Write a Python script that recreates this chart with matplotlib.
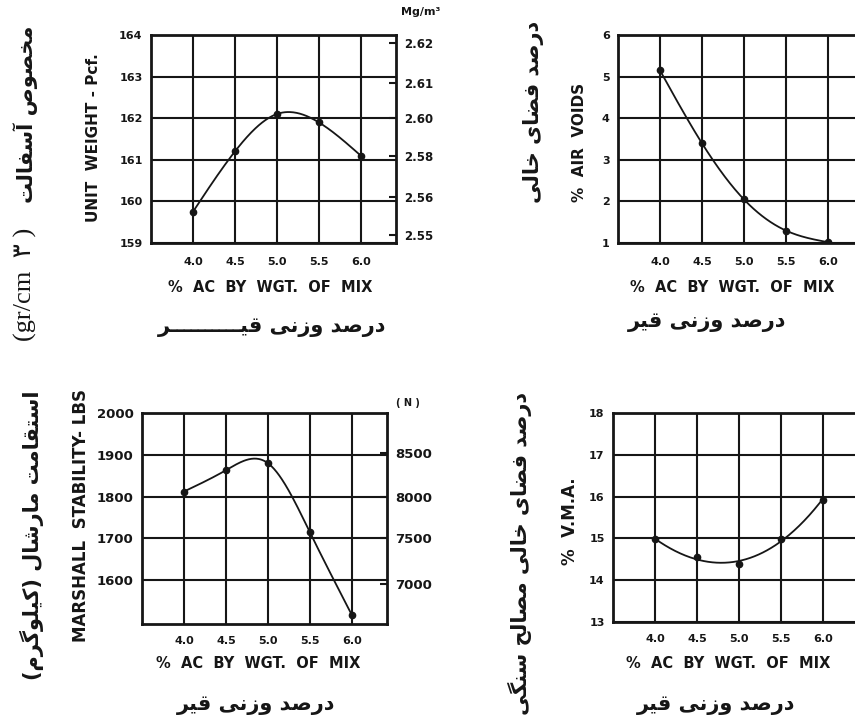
import numpy as np
import matplotlib
matplotlib.use('Agg')
import matplotlib.pyplot as plt

ac = [4.0, 4.5, 5.0, 5.5, 6.0]
ac_labels = ['4.0', '4.5', '5.0', '5.5', '6.0']
unit_weight = [159.75, 161.2, 162.1, 161.9, 161.1]
air_voids = [5.15, 3.4, 2.05, 1.3, 1.02]
stability = [1812, 1863, 1880, 1715, 1517]
vma = [14.98, 14.55, 14.38, 14.98, 15.93]

density_ticks = [163.8, 162.85, 162.0, 161.1, 160.1, 159.2]
density_labels = ['2.62', '2.61', '2.60', '2.58', '2.56', '2.55']
newton_ticks = [1905, 1800, 1700, 1590]
newton_labels = ['8500', '8000', '7500', '7000']

# presentation forms: isolated, final, initial, medial
FORMS = {
    'ا': ('\uFE8D', '\uFE8E', None, None), 'آ': ('\uFE81', '\uFE82', None, None),
    'ت': ('\uFE95', '\uFE96', '\uFE97', '\uFE98'), 'ح': ('\uFEA1', '\uFEA2', '\uFEA3', '\uFEA4'),
    'خ': ('\uFEA5', '\uFEA6', '\uFEA7', '\uFEA8'), 'د': ('\uFEA9', '\uFEAA', None, None),
    'ر': ('\uFEAD', '\uFEAE', None, None), 'ز': ('\uFEAF', '\uFEB0', None, None),
    'س': ('\uFEB1', '\uFEB2', '\uFEB3', '\uFEB4'), 'ش': ('\uFEB5', '\uFEB6', '\uFEB7', '\uFEB8'),
    'ص': ('\uFEB9', '\uFEBA', '\uFEBB', '\uFEBC'), 'ض': ('\uFEBD', '\uFEBE', '\uFEBF', '\uFEC0'),
    'ف': ('\uFED1', '\uFED2', '\uFED3', '\uFED4'), 'ق': ('\uFED5', '\uFED6', '\uFED7', '\uFED8'),
    'ل': ('\uFEDD', '\uFEDE', '\uFEDF', '\uFEE0'), 'م': ('\uFEE1', '\uFEE2', '\uFEE3', '\uFEE4'),
    'ن': ('\uFEE5', '\uFEE6', '\uFEE7', '\uFEE8'), 'و': ('\uFEED', '\uFEEE', None, None),
    'ی': ('\uFBFC', '\uFBFD', '\uFBFE', '\uFBFF'), 'ک': ('\uFB8E', '\uFB8F', '\uFB90', '\uFB91'),
    'گ': ('\uFB92', '\uFB93', '\uFB94', '\uFB95'),
}


def fa(text):
    # crude shaping + right-to-left ordering, matplotlib does none of it
    text = text.replace('\u064A', 'ی').replace('\u0643', 'ک')
    def joins(c):
        return c in FORMS or c == '\u0640'
    def dual(c):
        return c == '\u0640' or (c in FORMS and FORMS[c][2] is not None)
    out = []
    for i, c in enumerate(text):
        if c not in FORMS:
            out.append({'(': ')', ')': '('}.get(c, c))
            continue
        p = text[i - 1] if i > 0 else ''
        n = text[i + 1] if i + 1 < len(text) else ''
        before = dual(p)
        after = dual(c) and joins(n)
        iso, fin, ini, med = FORMS[c]
        out.append(med if before and after else fin if before else ini if after else iso)
    return ''.join(reversed(out))


def spline(x, y, n=200):
    x = np.asarray(x, float)
    y = np.asarray(y, float)
    h = np.diff(x)
    m = len(x)
    A = np.zeros((m, m))
    b = np.zeros(m)
    A[0, 0] = A[-1, -1] = 1
    for i in range(1, m - 1):
        A[i, i - 1] = h[i - 1]
        A[i, i] = 2 * (h[i - 1] + h[i])
        A[i, i + 1] = h[i]
        b[i] = 6 * ((y[i + 1] - y[i]) / h[i] - (y[i] - y[i - 1]) / h[i - 1])
    M = np.linalg.solve(A, b)
    xs = np.linspace(x[0], x[-1], n)
    k = np.clip(np.searchsorted(x, xs) - 1, 0, m - 2)
    t0 = x[k + 1] - xs
    t1 = xs - x[k]
    ys = (M[k] * t0 ** 3 + M[k + 1] * t1 ** 3) / (6 * h[k]) \
        + (y[k] / h[k] - M[k] * h[k] / 6) * t0 + (y[k + 1] / h[k] - M[k + 1] * h[k] / 6) * t1
    return xs, ys


plt.rcParams['font.family'] = ['DejaVu Sans']
plt.rcParams['font.weight'] = 'bold'
INK = '#161616'

W, H = 855, 717
fig = plt.figure(figsize=(W / 100, H / 100), dpi=100)


def px(x, y):
    return x / W, 1 - y / H


def panel(left, top, bottom, ylim, yticks, fs, pad):
    ax = fig.add_axes([left / W, 1 - bottom / H, 245 / W, (bottom - top) / H])
    ax.set_xlim(3.5, 6.42)
    ax.set_ylim(*ylim)
    ax.set_xticks(ac)
    ax.set_xticklabels(ac_labels)
    ax.set_yticks(yticks)
    ax.grid(True, color=INK, lw=1.5)
    ax.set_axisbelow(True)
    ax.tick_params(axis='x', length=0, labelsize=8, pad=pad, colors=INK)
    ax.tick_params(axis='y', length=0, labelsize=fs, pad=6, colors=INK)
    for s in ax.spines.values():
        s.set_linewidth(2.0)
        s.set_color(INK)
    return ax


def curve(ax, xs, ys, y):
    ax.plot(xs, ys, color=INK, lw=1.3, zorder=3)
    ax.plot(ac, y, 'o', color=INK, ms=4.5, zorder=4)


def right_axis(ax, ticks, labels, fs):
    r = ax.twinx()
    r.set_ylim(ax.get_ylim())
    r.set_yticks(ticks)
    r.set_yticklabels(labels)
    r.tick_params(direction='in', length=5, width=1.5, labelsize=fs, pad=6, colors=INK)
    for s in r.spines.values():
        s.set_visible(False)
    return r


persian = dict(family='DejaVu Sans', weight='bold', color=INK)
axis_font = dict(weight='bold', color=INK)

# unit weight
ax1 = panel(151, 35, 243, (159, 164), [159, 160, 161, 162, 163, 164], 8, 10)
curve(ax1, *spline(ac, unit_weight), unit_weight)
right_axis(ax1, density_ticks, density_labels, 8.5)
fig.text(*px(421, 12), 'Mg/m³', ha='center', va='center', fontsize=8, **axis_font)
fig.text(*px(93, 138), 'UNIT  WEIGHT - Pcf.', rotation=90, ha='center', va='center', fontsize=11, **axis_font)
fig.text(*px(270, 287), '%  AC  BY  WGT.  OF  MIX', ha='center', va='center', fontsize=10.5, **axis_font)
fig.text(*px(272, 327), fa('درصد وزنی قیــــــــــر'), ha='center', va='center', fontsize=15, **persian)
fig.text(*px(25, 341), '(gr/cm  ۳ )', rotation=90, ha='center', va='bottom', fontsize=19,
         family=['Liberation Serif', 'DejaVu Sans'], weight='normal', color=INK)
fig.text(*px(26, 203), fa('مخصوص آسفالت'), rotation=90, ha='center', va='bottom', fontsize=15, **persian)

# air voids
ax2 = panel(618, 35, 243, (1, 6), [1, 2, 3, 4, 5, 6], 8, 10)
curve(ax2, *spline(ac, air_voids), air_voids)
fig.text(*px(580, 142), '%  AIR  VOIDS', rotation=90, ha='center', va='center', fontsize=11, **axis_font)
fig.text(*px(732, 287), '%  AC  BY  WGT.  OF  MIX', ha='center', va='center', fontsize=10.5, **axis_font)
fig.text(*px(707, 322), fa('درصد وزنی قیر'), ha='center', va='center', fontsize=15, **persian)
fig.text(*px(533, 112), fa('درصد فضای خالی'), rotation=90, ha='center', va='center', fontsize=15, **persian)

# marshall stability
ax3 = panel(142, 413, 624, (1495, 2000), [1600, 1700, 1800, 1900, 2000], 9.5, 9)
curve(ax3, *spline(ac, stability), stability)
right_axis(ax3, newton_ticks, newton_labels, 9.5)
fig.text(*px(408, 403), '( N )', ha='center', va='center', fontsize=7, **axis_font)
fig.text(*px(81, 515), 'MARSHALL  STABILITY- LBS', rotation=90, ha='center', va='center', fontsize=12, **axis_font)
fig.text(*px(258, 663), '%  AC  BY  WGT.  OF  MIX', ha='center', va='center', fontsize=10.5, **axis_font)
fig.text(*px(256, 705), fa('درصد وزنی قیر'), ha='center', va='center', fontsize=15, **persian)
fig.text(*px(32, 535), fa('استقامت مارشال (کیلوگرم)'), rotation=90, ha='center', va='center', fontsize=15, **persian)

# VMA
ax4 = panel(613, 413, 622, (13, 18), [13, 14, 15, 16, 17, 18], 8, 9)
fit = np.polyfit(ac, vma, 3)
xs = np.linspace(ac[0], ac[-1], 200)
curve(ax4, xs, np.polyval(fit, xs), vma)
fig.text(*px(570, 521), '%  V.M.A.', rotation=90, ha='center', va='center', fontsize=12, **axis_font)
fig.text(*px(728, 663), '%  AC  BY  WGT.  OF  MIX', ha='center', va='center', fontsize=10.5, **axis_font)
fig.text(*px(716, 705), fa('درصد وزنی قیر'), ha='center', va='center', fontsize=15, **persian)
fig.text(*px(520, 392), fa('درصد فضای خالی مصالح سنگی'), rotation=90, ha='center', va='top', fontsize=15, **persian)

fig.savefig('out.png', dpi=100, facecolor='white')
